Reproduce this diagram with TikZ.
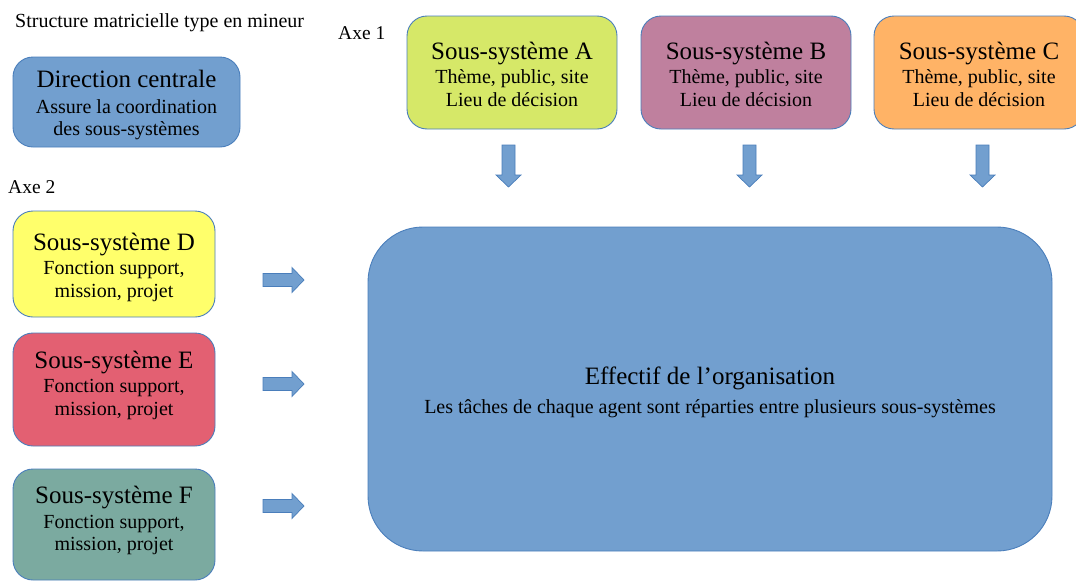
\documentclass[tikz,border=0pt]{standalone}
\usepackage{fontspec}
\setmainfont{Liberation Serif}
\definecolor{edgeblue}{HTML}{4A7EBB}
\definecolor{fillblue}{HTML}{729FCF}
\definecolor{fillA}{HTML}{D6E868}
\definecolor{fillB}{HTML}{BF809E}
\definecolor{fillC}{HTML}{FFB366}
\definecolor{fillD}{HTML}{FFFF6B}
\definecolor{fillE}{HTML}{E36072}
\definecolor{fillF}{HTML}{7BAAA0}
\newcommand{\titlesize}{\fontsize{25}{26}\selectfont}
\newcommand{\subsize}{\fontsize{20}{22.5}\selectfont}
\tikzset{
  sysbox/.style={draw=edgeblue, line width=0.9pt, rounded corners=20pt, inner sep=0pt},
  boxtext/.style={align=center, inner sep=0pt, font=\subsize},
  label/.style={font=\fontsize{19.5}{22}\selectfont, inner sep=0pt},
  blockarrow/.style={draw=edgeblue, fill=fillblue, line width=0.7pt},
}
\begin{document}
\begin{tikzpicture}[x=1pt, y=-1pt]
\useasboundingbox (0,0) rectangle (1076,581);

% labels
\node[label, font=\fontsize{20}{22}\selectfont, anchor=base west] (titre) at (15,27) {Structure matricielle type en mineur};
\node[label, anchor=base west] (axe1) at (338,39) {Axe 1};
\node[label, anchor=base west] (axe2) at (8,193) {Axe 2};

% central direction
\node[sysbox, fill=fillblue, minimum width=227pt, minimum height=90pt] (dir) at (126.5,102) {};
\node[boxtext] (dir-text) at ([yshift=-3pt]dir.center)
  {{\titlesize Direction centrale}\\[3pt]Assure la coordination\\des sous-systèmes};

% axis 1 sub-systems
\node[sysbox, fill=fillA, minimum width=210pt, minimum height=113pt] (A) at (512,72.5) {};
\node[sysbox, fill=fillB, minimum width=210pt, minimum height=113pt] (B) at (746,72.5) {};
\node[sysbox, fill=fillC, minimum width=210pt, minimum height=113pt] (C) at (979,72.5) {};
\foreach \n in {A,B,C}
  \node[boxtext] (\n-text) at ([yshift=-1.5pt]\n.center)
    {{\titlesize Sous-système \n}\\[2pt]Thème, public, site\\Lieu de décision};

% axis 2 sub-systems
\node[sysbox, fill=fillD, minimum width=202pt, minimum height=106pt] (D) at (114,264) {};
\node[sysbox, fill=fillE, minimum width=202pt, minimum height=113pt] (E) at (114,389.5) {};
\node[sysbox, fill=fillF, minimum width=202pt, minimum height=111pt] (F) at (114,524.5) {};
\foreach \n/\dy in {D/-3, E/4.5, F/4}
  \node[boxtext] (\n-text) at ([yshift=\dy pt]\n.center)
    {{\titlesize Sous-système \n}\\[2pt]Fonction support,\\mission, projet};

% staff of the organisation
\node[sysbox, fill=fillblue, rounded corners=55pt, minimum width=684pt, minimum height=324pt] (eff) at (710,389) {};
\node[boxtext] (eff-text) at ([yshift=-3.5pt]eff.center)
  {{\titlesize Effectif de l’organisation}\\[7pt]Les tâches de chaque agent sont réparties entre plusieurs sous-systèmes};

% downward block arrows
\foreach \cx in {508.5, 749.5, 982.5}
  \path[blockarrow, shift={(\cx,145)}]
    (-6.5,0) -- (6.5,0) -- (6.5,30) -- (12.5,30) -- (0,42) -- (-12.5,30) -- (-6.5,30) -- cycle;

% rightward block arrows
\foreach \cy in {280, 384, 506}
  \path[blockarrow, shift={(263,\cy)}]
    (0,-6.5) -- (29,-6.5) -- (29,-12.5) -- (41,0) -- (29,12.5) -- (29,6.5) -- (0,6.5) -- cycle;
\end{tikzpicture}
\end{document}
